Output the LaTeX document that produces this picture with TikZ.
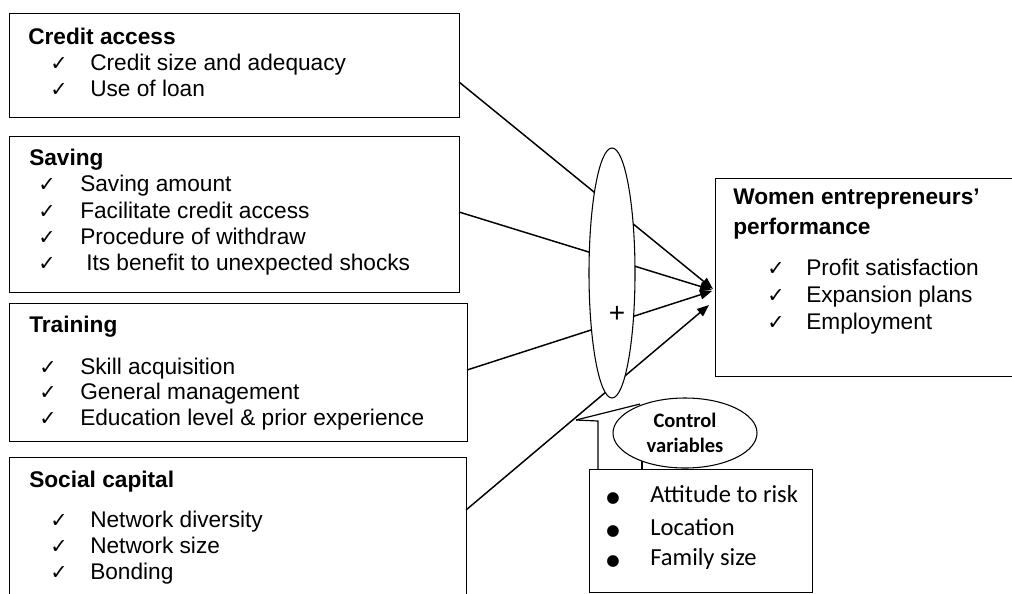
\documentclass[tikz,border=0pt]{standalone}
\usepackage{fontspec}
\setmainfont{Liberation Sans}
\newfontfamily\calfont{Carlito}
\newfontfamily\glyphfont{DejaVu Sans}
\usetikzlibrary{arrows.meta,shapes.geometric}
\newcommand{\ckitem}[5]{%
  \node[chk] (#1-c) at (#2,#5) {✓};
  \node[txt] (#1-t) at (#3,#5) {#4};}
\newcommand{\btitem}[3]{%
  \node[bul] (#1-b) at (613,#3) {●};
  \node[ctxt] (#1-t) at (650,#3) {#2};}
\begin{document}
\begin{tikzpicture}[x=0.75pt,y=-0.75pt,
  box/.style={draw, line width=1pt, rectangle, anchor=north west, inner sep=0pt},
  txt/.style={anchor=base west, inner sep=0pt, font=\fontsize{17}{20}\selectfont},
  hd/.style={anchor=base west, inner sep=0pt, font=\fontsize{17}{20}\selectfont\bfseries},
  chk/.style={anchor=base west, inner sep=0pt, font=\glyphfont\fontsize{15.5}{17}\selectfont},
  bul/.style={anchor=base, inner sep=0pt, font=\glyphfont\fontsize{11.5}{12}\selectfont},
  ctxt/.style={anchor=base west, inner sep=0pt, font=\calfont\fontsize{18.4}{22}\selectfont},
  arr/.style={line width=1.1pt, -{Triangle[length=9pt,width=7pt]}},
  conn/.style={line width=0.9pt},
  oval/.style={draw, ellipse, line width=0.8pt, fill=white, inner sep=0pt}]
\useasboundingbox (0,0) rectangle (1012,593);

% boxes
\node[box, minimum width=337.5pt, minimum height=78pt] (ca) at (9,13) {};
\node[box, minimum width=337.5pt, minimum height=117pt] (sv) at (9,136) {};
\node[box, minimum width=343.5pt, minimum height=103.5pt] (tr) at (9,303) {};
\node[box, minimum width=342.75pt, minimum height=120pt] (sc) at (9,457) {};
\node[box, minimum width=232.5pt, minimum height=148.5pt] (wp) at (715,178) {};
\node[box, minimum width=167pt, minimum height=92pt] (cb) at (589,469) {};

% connector end points
\coordinate (ca-o) at (459,82);
\coordinate (sv-o) at (459,212);
\coordinate (tr-o) at (467,370);
\coordinate (sc-o) at (466,510);
\coordinate (wp-a) at (713,289);
\coordinate (wp-b) at (712,290);
\coordinate (wp-c) at (712,291);
\coordinate (wp-d) at (709,305);

\draw[arr] (ca-o) -- (wp-a);
\draw[arr] (sv-o) -- (wp-b);
\draw[arr] (tr-o) -- (wp-c);
\draw[arr] (sc-o) -- (wp-d);

% callout connectors
\coordinate (tip) at (576,420);
\coordinate (cb-k) at (598,469);
\coordinate (cb-m) at (642,469);
\coordinate (cv-p) at (640,404);
\coordinate (cv-q) at (642,455);
\draw[conn] (tip) -- (cv-p);
\draw[conn] (tip) -- (598,421) -- (cb-k);
\draw[conn] (cv-q) -- (cb-m);

% ellipses
\node[oval, minimum width=34.5pt, minimum height=187.5pt] (mod) at (612,273) {};
\node[inner sep=0pt, font=\fontsize{21}{24}\selectfont] (plus) at (617,314) {+};
\node[oval, minimum width=108pt, minimum height=52.5pt, align=center,
      font=\calfont\bfseries\fontsize{15.4}{18.8}\selectfont] (cv) at (685,433)
      {Control\\variables};

% Credit access
\node[hd] (ca-h) at (28,44) {Credit access};
\ckitem{ca1}{50}{90}{Credit size and adequacy}{70}
\ckitem{ca2}{50}{90}{Use of loan}{96}

% Saving
\node[hd] (sv-h) at (29,165) {Saving};
\ckitem{sv1}{38}{80}{Saving amount}{191}
\ckitem{sv2}{38}{80}{Facilitate credit access}{218}
\ckitem{sv3}{38}{80}{Procedure of withdraw}{244}
\ckitem{sv4}{38}{86}{Its benefit to unexpected shocks}{270}

% Training
\node[hd] (tr-h) at (29,332) {Training};
\ckitem{tr1}{39}{80}{Skill acquisition}{374}
\ckitem{tr2}{39}{80}{General management}{399}
\ckitem{tr3}{39}{80}{Education level \& prior experience}{425}

% Social capital
\node[hd] (sc-h) at (29,487) {Social capital};
\ckitem{sc1}{50}{90}{Network diversity}{527}
\ckitem{sc2}{50}{90}{Network size}{553}
\ckitem{sc3}{50}{90}{Bonding}{579}

% Women entrepreneurs' performance
\node[hd] (wp-h1) at (733,204) {Women entrepreneurs’};
\node[hd] (wp-h2) at (733,234) {performance};
\ckitem{wp1}{767}{806}{Profit satisfaction}{275}
\ckitem{wp2}{767}{806}{Expansion plans}{302}
\ckitem{wp3}{767}{806}{Employment}{329}

% Control variables list
\btitem{cb1}{Attitude to risk}{502}
\btitem{cb2}{Location}{535}
\btitem{cb3}{Family size}{565}
\end{tikzpicture}
\end{document}
